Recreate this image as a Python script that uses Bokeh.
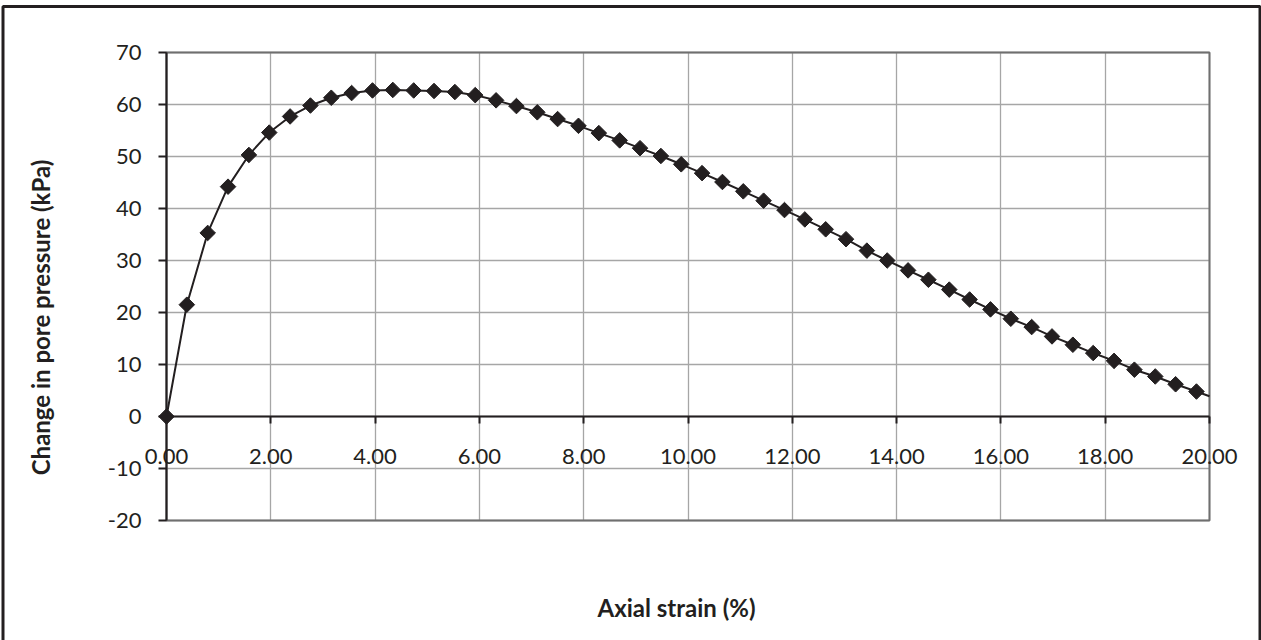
import math
from bokeh.plotting import figure
from bokeh.models import (Range1d, Label, BoxAnnotation, FixedTicker, PrintfTickFormatter,
                          LinearAxis, Grid)
from bokeh.embed import file_html
from bokeh.resources import INLINE

# ---- data ----
strain = [0.00, 0.39, 0.79, 1.18, 1.58, 1.97, 2.37, 2.76, 3.16, 3.55, 3.95, 4.34, 4.74,
          5.13, 5.53, 5.92, 6.32, 6.71, 7.11, 7.50, 7.90, 8.29, 8.69, 9.08, 9.48, 9.87,
          10.27, 10.66, 11.06, 11.45, 11.85, 12.24, 12.64, 13.03, 13.43, 13.82, 14.22,
          14.61, 15.01, 15.40, 15.80, 16.19, 16.59, 16.98, 17.38, 17.77, 18.17, 18.56,
          18.96, 19.35, 19.75]
pore = [0.0, 21.5, 35.3, 44.2, 50.3, 54.6, 57.7, 59.8, 61.3, 62.2, 62.7, 62.8, 62.7,
        62.6, 62.4, 61.8, 60.8, 59.7, 58.5, 57.2, 55.9, 54.5, 53.1, 51.6, 50.1, 48.5,
        46.8, 45.1, 43.3, 41.5, 39.7, 37.9, 36.0, 34.1, 31.9, 30.0, 28.1, 26.3, 24.4,
        22.5, 20.6, 18.8, 17.2, 15.4, 13.8, 12.2, 10.7, 9.0, 7.7, 6.2, 4.8]
# where the smoothed curve leaves the plot area (right edge, no marker)
curve_end_strain = [20.00]
curve_end_pore = [3.9]
x_ticks = [0, 2, 4, 6, 8, 10, 12, 14, 16, 18, 20]
y_ticks = [-20, -10, 0, 10, 20, 30, 40, 50, 60, 70]
x_title = "Axial strain (%)"
y_title = "Change in pore pressure (kPa)"

INK = "#231f20"
FONT = "Lato"

# ---- layout (pixels) ----
W, H = 1261, 640
PL, PR, PT, PB = 166, 1209, 52, 520   # plot-area edges
xmin, xmax = x_ticks[0], x_ticks[-1]
ymin, ymax = y_ticks[0], y_ticks[-1]
sx = (PR - PL) / (xmax - xmin)
sy = (PB - PT) / (ymax - ymin)
x_range = Range1d(xmin - PL / sx, xmax + (W - PR) / sx)
y_range = Range1d(ymin - (H - PB) / sy, ymax + PT / sy)


def dx(px):
    return xmin + (px - PL) / sx


def dy(py):
    return ymax - (py - PT) / sy


p = figure(width=W, height=H, output_backend="svg", toolbar_location=None,
           x_range=x_range, y_range=y_range, x_axis_type=None, y_axis_type=None,
           min_border=0)
p.title.visible = False
p.background_fill_color = "white"
p.border_fill_color = "white"
p.outline_line_color = None

# grid, limited to the plot area
xg = Grid(dimension=0, ticker=FixedTicker(ticks=x_ticks),
          bounds=(xmin, xmax), cross_bounds=(ymin, ymax))
yg = Grid(dimension=1, ticker=FixedTicker(ticks=y_ticks),
          bounds=(ymin, ymax), cross_bounds=(xmin, xmax))
for g in (xg, yg):
    g.grid_line_color = "#a6a6a6"
    g.grid_line_width = 1.3
    p.add_layout(g)

# plot-area border
p.quad(left=[xmin], right=[xmax], bottom=[ymin], top=[ymax], fill_alpha=0,
       line_color="#6f6f6f", line_width=2)

# x axis crossing at y = 0
xa = LinearAxis(fixed_location=0, bounds=(xmin, xmax))
xa.ticker = FixedTicker(ticks=x_ticks)
xa.formatter = PrintfTickFormatter(format="%.2f")
xa.major_tick_out = 7
xa.major_tick_in = 0
xa.major_label_standoff = 25
p.add_layout(xa, "below")

ya = LinearAxis(fixed_location=0, bounds=(ymin, ymax))
ya.ticker = FixedTicker(ticks=y_ticks)
ya.formatter = PrintfTickFormatter(format="%d")
ya.major_tick_out = 8
ya.major_tick_in = 0
ya.major_label_standoff = 17
p.add_layout(ya, "left")

for a in (xa, ya):
    a.axis_line_color = INK
    a.axis_line_width = 2
    a.major_tick_line_color = INK
    a.major_tick_line_width = 2
    a.minor_tick_line_color = None
    a.major_label_text_font = FONT
    a.major_label_text_font_size = "22px"
    a.major_label_text_color = INK

# series
p.line(strain + curve_end_strain, pore + curve_end_pore, line_color=INK, line_width=2)
p.scatter(strain, pore, marker="square", angle=math.pi / 4, size=11,
          fill_color=INK, line_color=INK)

# titles
p.add_layout(Label(x=dx(676), y=dy(607), text=x_title, text_align="center",
                   text_baseline="middle", text_font=FONT, text_font_style="bold",
                   text_font_size="24px", text_color=INK))
p.add_layout(Label(x=dx(40), y=dy(317), text=y_title, text_align="center",
                   text_baseline="middle", angle=math.pi / 2, text_font=FONT,
                   text_font_style="bold", text_font_size="24px", text_color=INK))

# outer frame
p.add_layout(BoxAnnotation(left=2.5, right=1259.5, top=6, bottom=720,
                           left_units="canvas", right_units="canvas",
                           top_units="canvas", bottom_units="canvas",
                           fill_alpha=0, line_color=INK, line_width=3, line_alpha=1))

open("out.html", "w").write(file_html(p, INLINE))
